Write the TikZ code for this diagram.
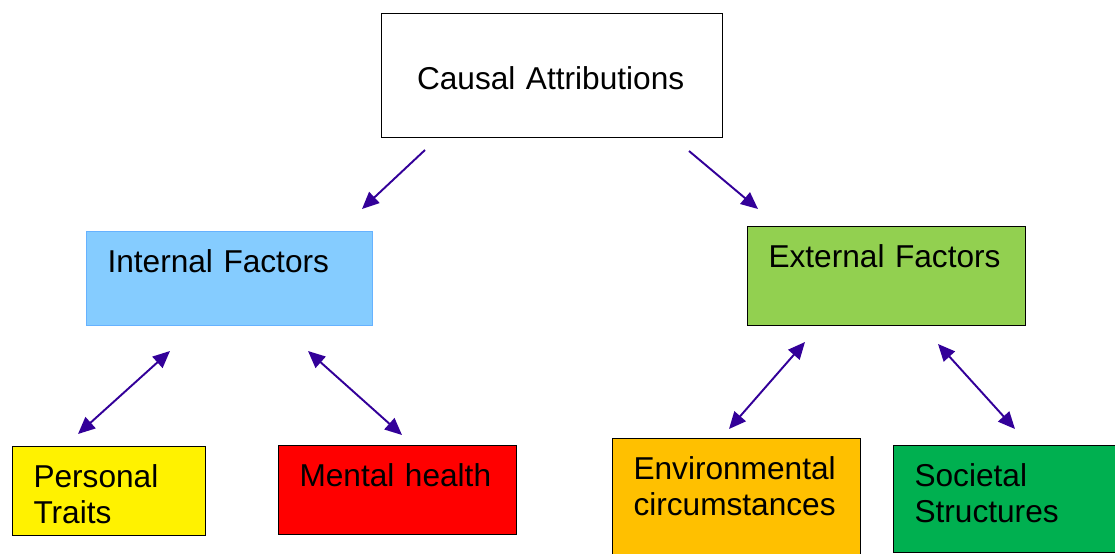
\documentclass[tikz,border=0pt]{standalone}
\usepackage{fontspec}
\setmainfont{Liberation Sans}
\usepackage{xcolor}
\usetikzlibrary{arrows.meta}

\definecolor{arrowc}{RGB}{51,0,153}
\definecolor{intblue}{RGB}{133,204,255}
\definecolor{intedge}{RGB}{102,178,255}
\definecolor{extgreen}{RGB}{146,208,80}
\definecolor{envorange}{RGB}{255,192,0}
\definecolor{socgreen}{RGB}{0,176,80}

\tikzset{
    box/.style={draw, line width=0.6pt, anchor=north west, align=left,
        inner xsep=0.42cm, inner ysep=0.2cm, text height=0.62cm,
        font=\fontsize{18}{20.4}\selectfont},
    link/.style={line width=1.1pt, draw=arrowc, -{Triangle[length=0.34cm,width=0.3cm]}},
    twoway/.style={link, {Triangle[length=0.34cm,width=0.3cm]}-{Triangle[length=0.34cm,width=0.3cm]}}
}

\begin{document}
\begin{tikzpicture}[x=0.02cm, y=-0.02cm]
    \useasboundingbox (0,0) rectangle (1115,554);

    % Top box
    \node[box, text width=5.4cm, inner xsep=0.71cm, text height=1.32cm, text depth=0.76cm]
        (cause) at (381,13) {Causal Attributions};

    % Second level
    \node[box, draw=intedge, fill=intblue, text width=4.88cm, text depth=0.86cm]
        (internal) at (86,231) {Internal Factors};
    \node[box, fill=extgreen, text width=4.72cm, text depth=0.96cm]
        (external) at (747,226) {External Factors};

    % Bottom level
    \node[box, fill=yellow, text width=3.02cm, text depth=0.76cm]
        (traits) at (12,446) {Personal\\Traits};
    \node[box, fill=red, text width=3.92cm, text depth=0.76cm]
        (mental) at (278,445) {Mental health};
    \node[box, fill=envorange, text width=4.12cm, text depth=1.58cm]
        (environ) at (612,438) {Environmental\\circumstances};
    \node[box, fill=socgreen, text width=3.8cm, text depth=1.12cm]
        (societal) at (893,445) {Societal\\Structures};

    % Arrow ends (arrows float between the boxes)
    \coordinate (ci) at (425,150);
    \coordinate (ic) at (362,209);
    \coordinate (ce) at (689,151);
    \coordinate (ec) at (758,209);
    \coordinate (it) at (170,351);
    \coordinate (ti) at (78,434);
    \coordinate (im) at (308,351);
    \coordinate (mi) at (402,435);
    \coordinate (ev) at (805,342);
    \coordinate (ve) at (729,429);
    \coordinate (es) at (938,344);
    \coordinate (se) at (1015,429);

    % One-way arrows from the top box
    \draw[link] (ci) -- (ic);
    \draw[link] (ce) -- (ec);

    % Two-way arrows to the bottom boxes
    \foreach \a/\b in {it/ti, im/mi, ev/ve, es/se}
    {
        \draw[twoway] (\a) -- (\b);
    }
\end{tikzpicture}
\end{document}
